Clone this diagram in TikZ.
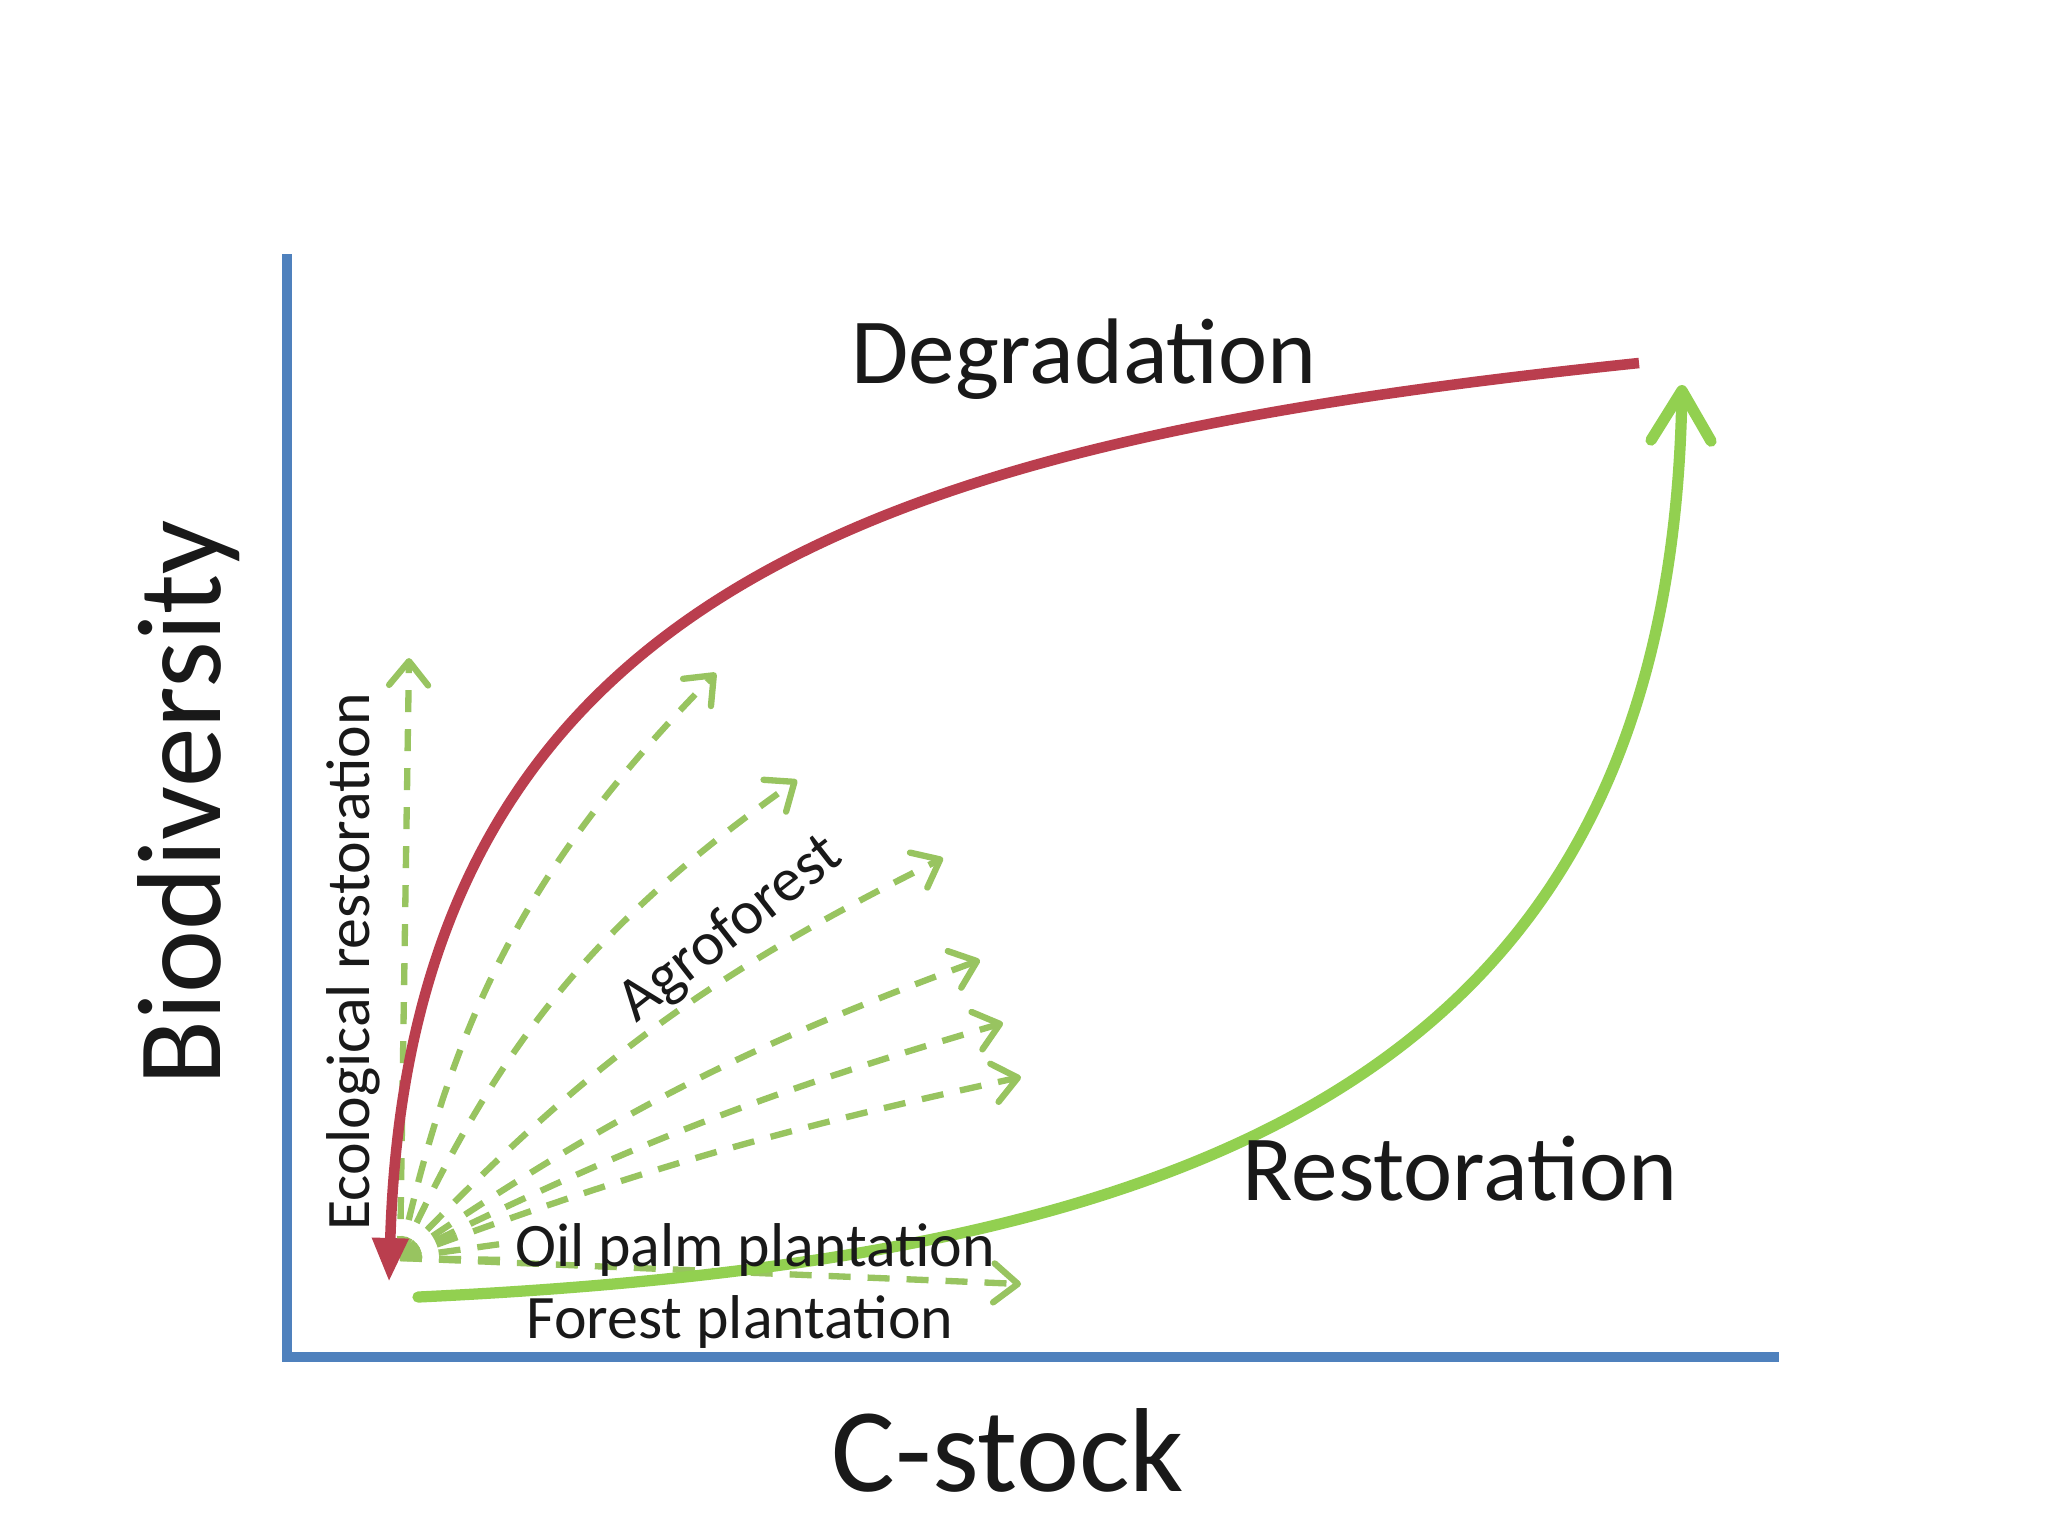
\documentclass[tikz,border=0pt]{standalone}
\usepackage{fontspec}
\setmainfont{Carlito}
\usetikzlibrary{arrows.meta}
\definecolor{axisblue}{RGB}{79,129,189}
\definecolor{degred}{RGB}{186,62,78}
\definecolor{resgreen}{RGB}{146,208,80}
\definecolor{fangreen}{RGB}{152,196,96}
\definecolor{txtgray}{RGB}{25,25,25}
\tikzset{
  axisline/.style={draw=axisblue, line width=2.8pt, line cap=rect},
  fanarrow/.style={draw=fangreen, line width=1.8pt, dash pattern=on 2.2mm off 1.7mm,
    -{Straight Barb[length=2.4mm,width=3.9mm,round]}},
  biglbl/.style={font=\fontsize{34}{40}\selectfont, text=txtgray, inner sep=0pt},
  midlbl/.style={font=\fontsize{26.5}{32}\selectfont, text=txtgray, inner sep=0pt},
  smalllbl/.style={font=\fontsize{17.6}{21}\selectfont, text=txtgray, inner sep=0pt},
}
\begin{document}
\begin{tikzpicture}[x=0.1mm, y=-0.1mm]
\fill[white] (0,0) rectangle (2048,1536);
\useasboundingbox (0,0) rectangle (2048,1536);
% axes
\coordinate (ytop) at (287,259);
\coordinate (orig) at (287,1357);
\coordinate (xend) at (1774,1357);
\draw[axisline] (ytop) -- (orig) -- (xend);
\node[biglbl, rotate=90] (ylab) at (189,803) {Biodiversity};
\node[biglbl] (xlab) at (1008,1450) {C-stock};
% fan of land-use options
\coordinate (o) at (400,1258);
\coordinate (eco) at (409,658);
\coordinate (f2) at (716,673);
\coordinate (f3) at (797,780);
\coordinate (f4) at (943,858);
\coordinate (f5) at (980,960);
\coordinate (f6) at (1003,1023);
\coordinate (f7) at (1021,1077);
\coordinate (fp) at (1021,1284);
\coordinate (op1) at (508,1243);
\coordinate (op2) at (508,1260);
\draw[fanarrow] (o) -- (eco);
\draw[fanarrow] (o) to[bend left=16] (f2);
\draw[fanarrow] (o) to[bend left=15] (f3);
\draw[fanarrow] (o) to[bend left=10] (f4);
\draw[fanarrow] (o) to[bend left=7] (f5);
\draw[fanarrow] (o) to[bend left=5] (f6);
\draw[fanarrow] (o) to[bend left=4] (f7);
\draw[fanarrow] (o) -- (fp);
\draw[fanarrow, -] (o) -- (op1);
\draw[fanarrow, -] (o) -- (op2);
% degradation and restoration
\coordinate (forest) at (1639,363);
\coordinate (degend) at (389,1282);
\coordinate (resstart) at (418,1297);
\coordinate (resend) at (1682,385);
\draw[degred, line width=3pt, -{Triangle[length=4.4mm,width=3.4mm]}]
  (forest) .. controls (900,440) and (410,580) .. (degend);
\draw[resgreen, line width=3.2pt, line cap=round, -{Straight Barb[length=5mm,width=6mm,round]}]
  (resstart) .. controls (1200,1260) and (1670,1080) .. (resend);
% labels
\node[midlbl] (deg) at (1084,359) {Degradation};
\node[midlbl] (res) at (1460,1169) {Restoration};
\node[smalllbl, rotate=90] (ecolab) at (353,962) {Ecological restoration};
\node[smalllbl, rotate=38] (agro) at (731,930) {Agroforest};
\node[smalllbl] (oilpalm) at (755,1250) {Oil palm plantation};
\node[smalllbl] (forplant) at (740,1322) {Forest plantation};
\end{tikzpicture}
\end{document}
